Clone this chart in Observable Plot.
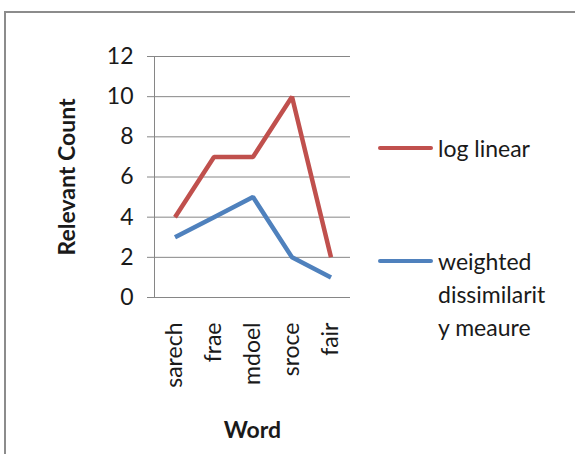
<!DOCTYPE html>
<html><head><meta charset="utf-8">
<script src="https://cdn.jsdelivr.net/npm/d3@7"></script>
<script src="https://cdn.jsdelivr.net/npm/@observablehq/plot@0.6"></script>
<style>
body{margin:0;background:#fff;}
#wrap{position:relative;width:575px;height:454px;overflow:hidden;font-family:Lato,sans-serif;background:#fff;}
#border{position:absolute;left:4px;top:11px;width:620px;height:520px;border:2px solid #8c8c8c;}
#chart{position:absolute;left:0;top:0;}
.legline{position:absolute;height:4px;border-radius:2px;}
.legtext{position:absolute;font-size:23px;line-height:33px;color:#1a1a1a;white-space:nowrap;}
</style></head>
<body>
<div id="wrap"><div id="border"></div><div id="chart"></div><div id="legend"></div></div>
<script>
const words = ["sarech", "frae", "mdoel", "sroce", "fair"];
const logLinear = [4, 7, 7, 10, 2];
const weighted = [3, 4, 5, 2, 1];
const seriesNames = ["log linear", "weighted dissimilarity meaure"];
const legendLines = [["log linear"], ["weighted", "dissimilarit", "y meaure"]];
const seriesColors = ["#C0504D", "#4F81BD"];
const yTicks = [0, 2, 4, 6, 8, 10, 12];
const yTitle = "Relevant Count";
const xTitle = "Word";

const data = [];
words.forEach((w, i) => {
  data.push({word: w, value: logLinear[i], series: seriesNames[0]});
});
words.forEach((w, i) => {
  data.push({word: w, value: weighted[i], series: seriesNames[1]});
});

const grid = "#868686";
const fs = 23;
const chart = Plot.plot({
  width: 575, height: 454,
  marginLeft: 154, marginRight: 225, marginTop: 56, marginBottom: 157,
  style: {fontFamily: "Lato, sans-serif", fontSize: fs + "px", color: "#1a1a1a", background: "transparent", overflow: "visible"},
  x: {type: "band", domain: words, padding: 0, label: null},
  y: {domain: [0, 12], label: null},
  color: {domain: seriesNames, range: seriesColors},
  marks: [
    Plot.gridY(yTicks, {stroke: grid, strokeOpacity: 1}),
    Plot.axisY({ticks: yTicks, tickSize: 7, tickPadding: 14, stroke: grid, strokeOpacity: 1, fontSize: fs, label: null}),
    Plot.frame({anchor: "left", stroke: grid}),
    Plot.axisX({tickSize: 0, tickRotate: -90, tickPadding: 25, fontSize: fs, label: null}),
    Plot.lineY(data, {x: "word", y: "value", z: "series", stroke: "series", strokeWidth: 4.5, strokeLinejoin: "miter", strokeLinecap: "butt"}),
    Plot.text([yTitle], {frameAnchor: "left", dx: -87, rotate: -90, textAnchor: "middle", lineAnchor: "middle", fontWeight: "bold", fontSize: fs, fill: "#1a1a1a"}),
    Plot.text([xTitle], {frameAnchor: "bottom", dy: 133, textAnchor: "middle", lineAnchor: "middle", fontWeight: "bold", fontSize: fs, fill: "#1a1a1a"})
  ]
});
document.getElementById("chart").appendChild(chart);

const leg = document.getElementById("legend");
const lineYs = [148, 261];
legendLines.forEach((lines, i) => {
  const l = document.createElement("div");
  l.className = "legline";
  l.style.left = "378px"; l.style.width = "55px";
  l.style.top = (lineYs[i] - 2) + "px";
  l.style.background = seriesColors[i];
  leg.appendChild(l);
  const t = document.createElement("div");
  t.className = "legtext";
  t.style.left = "438px";
  t.style.top = (lineYs[i] - 16.5) + "px";
  t.innerHTML = lines.join("<br>");
  leg.appendChild(t);
});
</script>
</body></html>
